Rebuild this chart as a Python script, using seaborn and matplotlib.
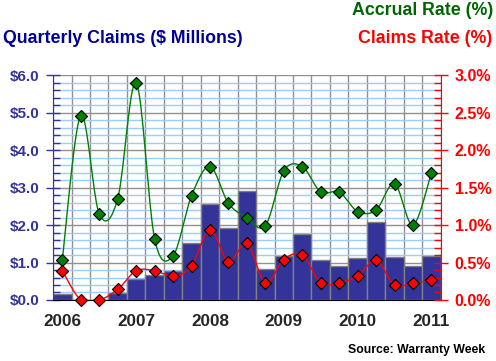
import numpy as np
import pandas as pd
import matplotlib
matplotlib.use("Agg")
import matplotlib.pyplot as plt
import seaborn as sns
from matplotlib.ticker import MultipleLocator, FixedLocator

# DATA
quarters = [f"{y}Q{q}" for y in range(2006, 2011) for q in range(1, 5)] + ["2011Q1"]
claims = [0.15, 0.0, 0.0, 0.18, 0.56, 0.68, 0.78, 1.51, 2.56, 1.91, 2.90,
          0.82, 1.17, 1.76, 1.06, 0.91, 1.11, 2.07, 1.14, 0.91, 1.17]
accrual_rate = [0.54, 2.46, 1.15, 1.35, 2.90, 0.82, 0.59, 1.39, 1.78, 1.29, 1.10,
                0.99, 1.72, 1.78, 1.44, 1.44, 1.18, 1.20, 1.55, 1.00, 1.70]
claims_rate = [0.39, 0.0, 0.0, 0.14, 0.39, 0.39, 0.32, 0.45, 0.94, 0.51, 0.76,
               0.23, 0.54, 0.60, 0.23, 0.23, 0.32, 0.53, 0.20, 0.23, 0.26]
year_labels = ["2006", "2007", "2008", "2009", "2010", "2011"]

BLUE = "#333399"
GREEN = "#006600"
RED = "#FF0000"

df = pd.DataFrame({"quarter": quarters, "claims": claims,
                   "accrual": accrual_rate, "crate": claims_rate})
df["pos"] = np.arange(len(df))


def smooth(x, y, n=20):
    # excel-style smoothed line (bezier through the points)
    x = np.asarray(x, float)
    y = np.asarray(y, float)
    px = np.concatenate([[x[0]], x, [x[-1]]])
    py = np.concatenate([[y[0]], y, [y[-1]]])
    xs, ys = [], []
    t = np.linspace(0, 1, n)
    for i in range(1, len(px) - 2):
        p0 = np.array([px[i], py[i]])
        p3 = np.array([px[i + 1], py[i + 1]])
        p1 = p0 + (p3 - np.array([px[i - 1], py[i - 1]])) / 6
        p2 = p3 - (np.array([px[i + 2], py[i + 2]]) - p0) / 6
        b = ((1 - t) ** 3)[:, None] * p0 + (3 * (1 - t) ** 2 * t)[:, None] * p1 \
            + (3 * (1 - t) * t ** 2)[:, None] * p2 + (t ** 3)[:, None] * p3
        xs.append(b[:, 0])
        ys.append(b[:, 1])
    return np.concatenate(xs), np.concatenate(ys)


sns.set_style("white")
plt.rcParams["font.family"] = ["Liberation Sans", "DejaVu Sans"]
plt.rcParams["font.weight"] = "bold"

fig = plt.figure(figsize=(4.96, 3.61), dpi=100)
ax = fig.add_axes([0.107, 0.169, 0.7815, 0.623])

sns.barplot(data=df, x="pos", y="claims", width=1.0, color=BLUE, saturation=1,
            edgecolor="#808080", linewidth=1.0, ax=ax, zorder=2)
ax.set_xlim(-0.5, len(df) - 0.5)
ax.set_ylim(0, 6)
ax.set_xlabel("")
ax.set_ylabel("")

# grid
ax.set_axisbelow(True)
ax.yaxis.set_major_locator(MultipleLocator(1.0))
ax.yaxis.set_minor_locator(MultipleLocator(0.2))
ax.grid(which="minor", axis="y", color="#99CCFF", linewidth=1.0, zorder=0)
ax.grid(which="major", axis="y", color="#909090", linewidth=1.0, zorder=0)
ax.xaxis.set_major_locator(FixedLocator(np.arange(-0.5, len(df), 1.0)))
ax.grid(which="major", axis="x", color="#909090", linewidth=1.0, zorder=0)
ax.xaxis.set_minor_locator(FixedLocator(np.arange(0, len(df), 4)))
ax.set_xticklabels([], minor=False)
ax.set_xticklabels(year_labels, minor=True, fontsize=12.3, fontweight="bold")
ax.tick_params(axis="x", which="major", direction="out", length=6, width=1, color="black")
ax.tick_params(axis="x", which="minor", length=0, pad=10)

ax.set_yticks(np.arange(0, 6.1, 1.0))
ax.set_yticklabels([f"${v:.1f}" for v in np.arange(0, 6.1, 1.0)], fontsize=11,
                   fontweight="bold", color=BLUE)
ax.tick_params(axis="y", which="major", direction="inout", length=10, width=1, color=BLUE, pad=5)
ax.tick_params(axis="y", which="minor", direction="in", length=5, width=1, color=BLUE)

for s in ["top", "right"]:
    ax.spines[s].set_visible(False)
ax.spines["left"].set_color(BLUE)
ax.spines["bottom"].set_color("black")

# rates on the right axis
ax2 = ax.twinx()
ax2.set_ylim(0, 3)
ax2.set_xlim(-0.5, len(df) - 0.5)
sx, sy = smooth(df["pos"], df["accrual"])
ax2.plot(sx, sy, color="#008000", lw=1.0, zorder=3)
sx, sy = smooth(df["pos"], df["crate"])
ax2.plot(sx, sy, color=RED, lw=1.0, zorder=3)
sns.scatterplot(data=df, x="pos", y="accrual", marker="D", s=38, color="#008000",
                edgecolor="black", linewidth=0.8, ax=ax2, zorder=4, clip_on=False)
sns.scatterplot(data=df, x="pos", y="crate", marker="D", s=38, color=RED,
                edgecolor="black", linewidth=0.8, ax=ax2, zorder=4, clip_on=False)
ax2.set_xlabel("")
ax2.set_ylabel("")
ax2.yaxis.set_major_locator(MultipleLocator(0.5))
ax2.yaxis.set_minor_locator(MultipleLocator(0.1))
ax2.set_yticks(np.arange(0, 3.01, 0.5))
ax2.set_yticklabels([f"{v:.1f}%" for v in np.arange(0, 3.01, 0.5)], fontsize=11.5,
                    fontweight="bold", color=RED)
ax2.tick_params(axis="y", which="major", direction="inout", length=10, width=1, color=RED, pad=5)
ax2.tick_params(axis="y", which="minor", direction="in", length=5, width=1, color=RED)
for s in ["top", "left", "bottom"]:
    ax2.spines[s].set_visible(False)
ax2.spines["right"].set_color(RED)

# titles
fig.text(0.994, 0.970, "Accrual Rate (%)", ha="right", va="center", color=GREEN,
         fontsize=12.8, fontweight="bold")
fig.text(0.006, 0.892, "Quarterly Claims ($ Millions)", ha="left", va="center",
         color="#000099", fontsize=12.8, fontweight="bold")
fig.text(0.992, 0.892, "Claims Rate (%)", ha="right", va="center", color=RED,
         fontsize=12.8, fontweight="bold")
fig.text(0.978, 0.030, "Source: Warranty Week", ha="right", va="center", color="black",
         fontsize=8.8, fontweight="bold")

fig.savefig("out.png", dpi=100)
